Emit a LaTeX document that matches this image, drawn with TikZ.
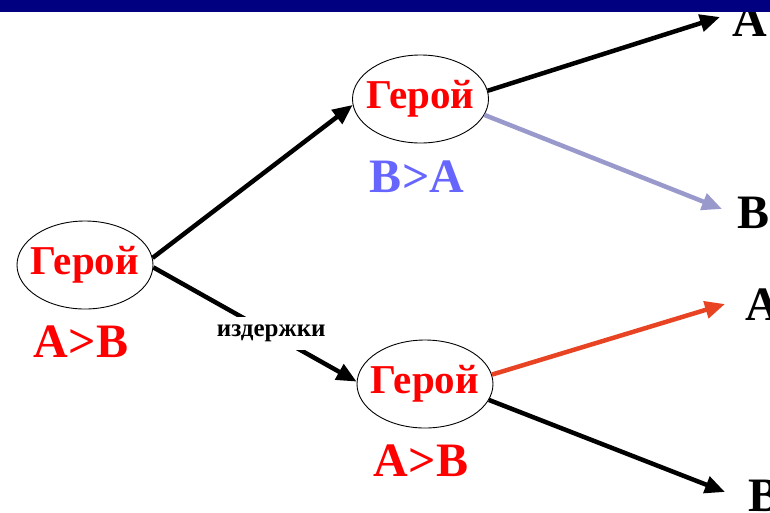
\documentclass[tikz,border=0pt]{standalone}
\usepackage{fontspec}
\setmainfont{Liberation Serif}
\usetikzlibrary{arrows.meta,shapes.geometric}
\definecolor{barblue}{RGB}{0,0,128}
\definecolor{heroRed}{RGB}{255,0,0}
\definecolor{baBlue}{RGB}{102,102,255}
\definecolor{lilac}{RGB}{153,153,204}
\definecolor{orangered}{RGB}{232,68,36}
\tikzset{
  hero/.style={draw=black, line width=0.9pt, ellipse, minimum width=136pt, minimum height=88pt,
    inner xsep=-30pt, inner ysep=-12pt,
    font=\fontsize{41}{41}\selectfont\bfseries, text=heroRed},
  rel/.style={font=\fontsize{48}{48}\selectfont\bfseries, inner sep=0pt, anchor=base},
  endl/.style={font=\fontsize{48}{48}\selectfont\bfseries, inner sep=0pt, anchor=base west, text=black},
  conn/.style={line width=4.5pt, -{Triangle[length=20pt,width=17pt]}},
  cost/.style={fill=white, font=\fontsize{25}{25}\selectfont\bfseries, inner xsep=4pt, inner ysep=8pt}
}
\begin{document}
\begin{tikzpicture}[x=1pt,y=-1pt]
\useasboundingbox (0,0) rectangle (770,512);
% nodes
\node[hero] (l) at (85,265) {Герой};
\node[hero] (t) at (420.5,99) {Герой};
\node[hero] (b) at (425,384) {Герой};
\node[rel, text=heroRed] (lr) at (81,357) {A>B};
\node[rel, text=baBlue] (tr) at (417,192) {B>A};
\node[rel, text=heroRed] (br) at (421,476) {A>B};
\node[endl] (ea1) at (732,36) {A};
\node[endl] (eb1) at (737,228) {B};
\node[endl] (ea2) at (745,320) {A};
\node[endl] (eb2) at (748,511) {B};
% arrow tip coordinates
\coordinate (p1) at (720,17);
\coordinate (p2) at (722,209);
\coordinate (p3) at (725,304);
\coordinate (p4) at (725,492);
% connectors
\draw[conn] (l.6) -- (t.185);
\draw[conn] (l.-2) -- node[cost, pos=0.58] (cst) {издержки} (b.178);
\draw[conn] (t.7) -- (p1);
\draw[conn, draw=lilac, fill=lilac] (t.-14) -- (p2);
\draw[conn, draw=orangered, fill=orangered] (b.8) -- (p3);
\draw[conn] (b.-14) -- (p4);
% top bar
\fill[barblue] (0,0) rectangle (770,12);
\end{tikzpicture}
\end{document}
